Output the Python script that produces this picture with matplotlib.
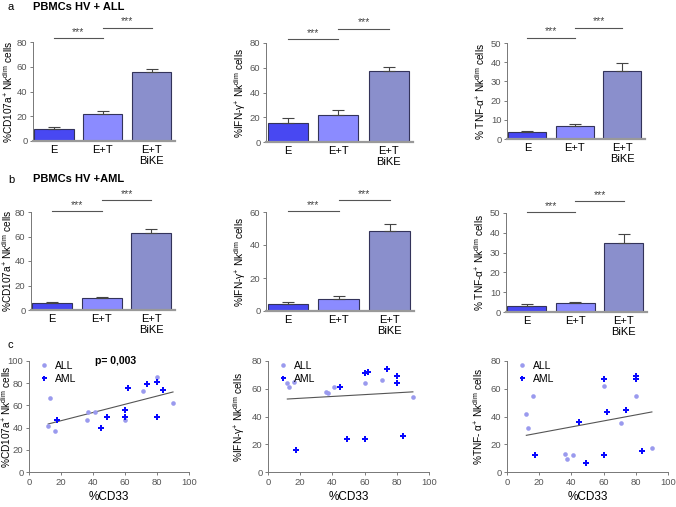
import numpy as np
import matplotlib
matplotlib.use("Agg")
import matplotlib.pyplot as plt
from matplotlib.transforms import blended_transform_factory
from matplotlib.lines import Line2D

plt.rcParams['font.family'] = ['Liberation Sans', 'DejaVu Sans']
plt.rcParams['mathtext.fontset'] = 'custom'
plt.rcParams['mathtext.rm'] = 'Liberation Sans'
plt.rcParams['mathtext.it'] = 'Liberation Sans'

# ---------------- data ----------------
groups = ["E", "E+T", "E+T\nBiKE"]

a_cd107 = [9.5, 21.5, 56.0]
a_cd107_err = [1.5, 2.5, 2.5]
a_ifn = [15.5, 21.5, 57.0]
a_ifn_err = [3.5, 4.0, 3.5]
a_tnf = [3.5, 7.0, 35.5]
a_tnf_err = [0.5, 0.6, 4.0]

b_cd107 = [5.5, 10.0, 63.0]
b_cd107_err = [0.7, 0.6, 3.0]
b_ifn = [4.5, 7.5, 48.5]
b_ifn_err = [1.0, 1.5, 4.0]
b_tnf = [3.0, 4.5, 35.0]
b_tnf_err = [0.8, 0.5, 4.5]

all_cd33 = [12, 13, 16, 36, 37, 41, 60, 71, 80, 90]
all_cd107 = [41, 67, 37, 47, 54, 54, 47, 73, 86, 62]
all_tnf = [42, 32, 55, 13, 9.5, 12.5, 62, 35.5, 55, 17]

all_ifn_x = [12, 13, 16, 36, 37, 41, 60, 71, 90]
all_ifn_y = [64, 61, 65, 57.5, 56.6, 61, 64, 66, 54]

aml_cd33 = [17.5, 45, 49, 60, 60, 62, 74, 80, 80, 84]
aml_cd107 = [47, 40, 50, 56, 50, 76, 79, 81, 50, 74]
aml_ifn = [15.5, 61, 24, 71, 24, 72, 74, 69, 64, 26]
aml_tnf = [12.5, 36, 6.5, 67, 12.5, 43.5, 45, 69, 67, 15]

bar_colors = ["#4848f2", "#8b8bff", "#8a8fcc"]
edge_col = "#33335a"
col_all = "#9a9aee"
col_aml = "#0808ff"

W, H = 676, 507
fig = plt.figure(figsize=(W / 100, H / 100), dpi=100)


def rect(l, r, b, t):
    return [l / W, 1 - b / H, (r - l) / W, (b - t) / H]


def place_ylabel(ax, ylabel, xpix, left, width, fs=7.3):
    ax.set_ylabel(ylabel, fontsize=fs)
    ax.yaxis.label.set_va('center')
    ax.yaxis.set_label_coords((xpix - left) / width, 0.5)


def bar_panel(box, vals, errs, ymax, step, ylabel, s1, s2, labx):
    l, r, b, t = box
    ax = fig.add_axes(rect(l, r, b, t))
    x = np.arange(len(vals))
    ax.bar(x, vals, width=0.8, color=bar_colors, edgecolor=edge_col, linewidth=0.8, zorder=2)
    ax.errorbar(x, vals, yerr=[np.zeros(len(errs)), errs], fmt='none',
                ecolor="#444444", elinewidth=0.8, capsize=4, capthick=0.8, zorder=3)
    ax.set_xlim(-0.43, 2.48)
    ax.set_ylim(0, ymax)
    ax.set_yticks(np.arange(0, ymax + 0.1, step))
    ax.set_xticks(x)
    ax.set_xticklabels(groups, fontsize=8, va='top', linespacing=1.15)
    ax.tick_params(axis='x', length=0, pad=3)
    ax.tick_params(axis='y', labelsize=6.8, colors="#666666", length=2.5, width=0.6, pad=1.5)
    for lab in ax.get_yticklabels():
        lab.set_color("#555555")
    for sp in ['top', 'right']:
        ax.spines[sp].set_visible(False)
    ax.spines['left'].set_color("#777777")
    ax.spines['left'].set_linewidth(0.7)
    ax.spines['bottom'].set_color("#999999")
    ax.spines['bottom'].set_linewidth(1.6)
    place_ylabel(ax, ylabel, labx, l, r - l)
    tr = blended_transform_factory(ax.transData, ax.transAxes)
    for (a, bb), yy in (((0, 1), s1), ((1, 2), s2)):
        ax.plot([a, bb], [yy, yy], color="#555555", lw=0.8, transform=tr, clip_on=False)
        ax.text((a + bb) / 2, yy + 0.012, "***", transform=tr, ha='center', va='bottom',
                fontsize=7.5, color="#444444")
    return ax


lab107 = "%CD107a$^{+}$ Nk$^{dim}$ cells"
labifn = "%IFN-γ$^{+}$ Nk$^{dim}$ cells"
labtnf = "% TNF-α$^{+}$ Nk$^{dim}$ cells"

bar_panel((33, 175, 141, 42), a_cd107, a_cd107_err, 80, 20, lab107, 1.04, 1.145, 8)
bar_panel((266, 413, 142, 43), a_ifn, a_ifn_err, 80, 20, labifn, 1.04, 1.145, 240)
bar_panel((507, 645, 139, 43), a_tnf, a_tnf_err, 50, 10, labtnf, 1.055, 1.16, 480)

bar_panel((31, 175, 310, 212), b_cd107, b_cd107_err, 80, 20, lab107, 1.01, 1.12, 7)
bar_panel((266, 414, 311, 212), b_ifn, b_ifn_err, 60, 20, labifn, 1.01, 1.12, 240)
bar_panel((506, 647, 312, 213), b_tnf, b_tnf_err, 50, 10, labtnf, 1.01, 1.12, 479)


def scatter_panel(box, ax_, ay_, mx, my, ymax, step, ylabel, labx, ptext=None):
    l, r, b, t = box
    ax = fig.add_axes(rect(l, r, b, t))
    ax.scatter(ax_, ay_, s=11, marker='o', color=col_all, linewidths=0, zorder=3)
    ax.scatter(mx, my, s=13, marker='P', color=col_aml, linewidths=0, zorder=3)
    xs = np.array(list(ax_) + list(mx), float)
    ys = np.array(list(ay_) + list(my), float)
    k, c = np.polyfit(xs, ys, 1)
    xl = np.array([12, 90])
    ax.plot(xl, k * xl + c, color="#555555", lw=0.8, zorder=2)
    ax.set_xlim(0, 100)
    ax.set_ylim(0, ymax)
    ax.set_xticks(np.arange(0, 101, 20))
    ax.set_yticks(np.arange(0, ymax + 0.1, step))
    ax.tick_params(labelsize=6.8, colors="#666666", length=2.5, width=0.6, pad=1.5)
    for lab in ax.get_xticklabels() + ax.get_yticklabels():
        lab.set_color("#555555")
    for sp in ['top', 'right']:
        ax.spines[sp].set_visible(False)
    for sp in ['left', 'bottom']:
        ax.spines[sp].set_color("#777777")
        ax.spines[sp].set_linewidth(0.7)
    place_ylabel(ax, ylabel, labx, l, r - l)
    ax.set_xlabel("%CD33", fontsize=8.5, labelpad=3)
    handles = [Line2D([], [], marker='o', ls='none', color=col_all, markersize=3.3, markeredgewidth=0),
               Line2D([], [], marker='P', ls='none', color=col_aml, markersize=3.6, markeredgewidth=0)]
    ax.legend(handles, ["ALL", "AML"], loc='upper left', bbox_to_anchor=(0.02, 1.06),
              frameon=False, fontsize=7.5, handlelength=1.0, handletextpad=0.6,
              labelspacing=0.3, borderaxespad=0.2)
    if ptext:
        ax.text(0.41, 1.0, ptext, transform=ax.transAxes, fontsize=7.5, fontweight='bold',
                ha='left', va='center')
    return ax


scatter_panel((29, 189, 472, 361), all_cd33, all_cd107, aml_cd33, aml_cd107, 100, 20,
              lab107, 6, "p= 0,003")
scatter_panel((268, 429, 472, 361), all_ifn_x, all_ifn_y, aml_cd33, aml_ifn, 80, 20, labifn, 239)
scatter_panel((507, 668, 472, 361), all_cd33, all_tnf, aml_cd33, aml_tnf, 80, 20,
              "%TNF- α$^{+}$ Nk$^{dim}$ cells", 478)

fig.text(8 / W, 1 - 7 / H, "a", fontsize=8, ha='left', va='center')
fig.text(33 / W, 1 - 7 / H, "PBMCs HV + ALL", fontsize=8, fontweight='bold', ha='left', va='center')
fig.text(8 / W, 1 - 180 / H, "b", fontsize=8, ha='left', va='center')
fig.text(33 / W, 1 - 179 / H, "PBMCs HV +AML", fontsize=8, fontweight='bold', ha='left', va='center')
fig.text(8 / W, 1 - 345 / H, "c", fontsize=8, ha='left', va='center')

fig.savefig("out.png", dpi=100)
